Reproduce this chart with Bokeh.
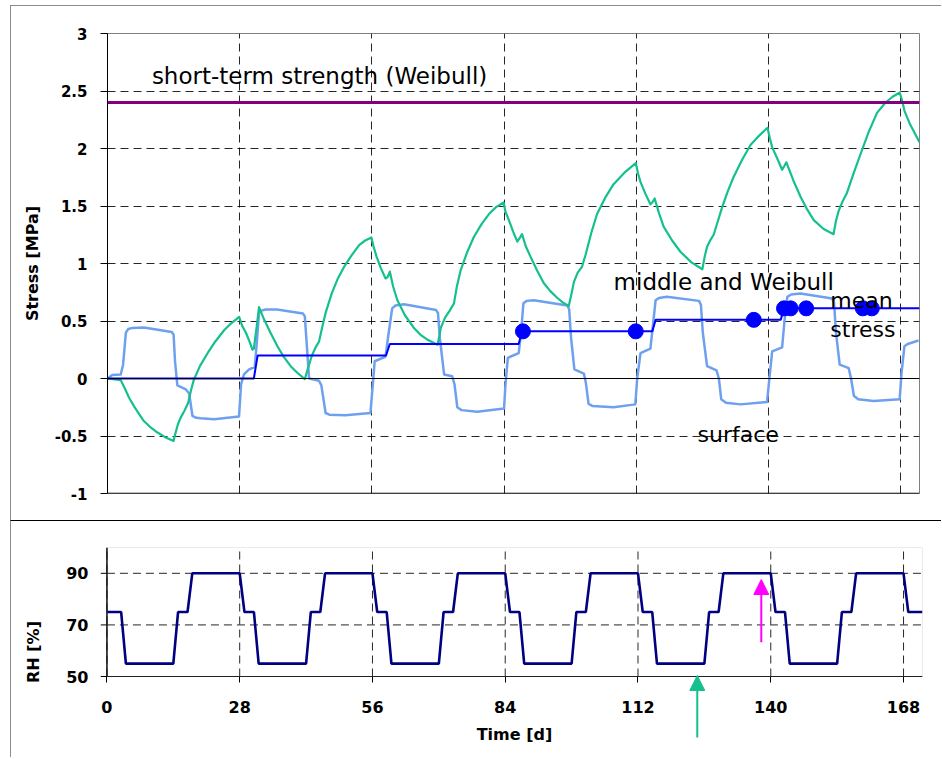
from bokeh.plotting import figure
from bokeh.models import Range1d, FixedTicker, Span, Arrow, NormalHead, ColumnDataSource, BoxAnnotation
from bokeh.layouts import column
from bokeh.embed import file_html
from bokeh.resources import INLINE
from bokeh.core.properties import value

# ---------------- data ----------------
day_range = (0, 172)
x_ticks = [0, 28, 56, 84, 112, 140, 168]
stress_ticks = [-1, -0.5, 0, 0.5, 1, 1.5, 2, 2.5, 3]
stress_tick_labels = ["-1", "-0.5", "0", "0.5", "1", "1.5", "2", "2.5", "3"]
rh_range = (50, 100)
rh_ticks = [50, 70, 90]
rh_grid = [70, 90]
# view extents of the RH panel (room around the plot area for axes and the arrow)
rh_view_y_min = 19.0
rh_view_x_min = -2.2
rh_tick_len_days = 1.3

strength = 2.4

mid_day = [0, 2.8, 3.7, 4.6, 5.6, 6.7, 7.7, 9.0, 10.6, 12.2, 14.0,
           14.3, 14.9, 15.5, 16.3, 17.1, 17.7, 18.3, 19.6, 21.2, 22.8, 24.7, 26.2, 27.9,
           28.5, 29.3, 30.2, 30.7, 31.0, 31.6, 32.1, 32.5, 33.2, 34.5, 36.0, 37.3, 38.8, 40.2, 41.8,
           42.4, 43.3, 44.2, 44.8, 45.5, 46.2, 47.5, 48.8, 50.1, 51.7, 53.3, 54.6, 55.9,
           56.4, 57.0, 57.9, 58.9, 59.3, 59.8, 60.5, 61.4, 63.0, 64.9, 66.3, 67.7, 69.9,
           70.3, 70.6, 71.5, 72.5, 73.4, 74.0, 74.8, 76.2, 77.6, 79.2, 80.8, 82.3, 83.9,
           84.3, 85.0, 85.9, 86.8, 87.3, 87.8, 88.6, 89.6, 91.0, 92.4, 93.8, 95.3, 96.5, 97.7,
           98.3, 98.8, 99.6, 100.5, 101.3, 102.5, 103.7, 105.4, 107.2, 109.5, 111.9,
           112.4, 112.9, 113.9, 115.0, 115.4, 115.9, 116.8, 117.8, 119.6, 121.4, 123.7, 126.0,
           126.5, 127.0, 127.8, 128.4, 129.3, 130.2, 131.4, 132.6, 134.4, 136.2, 138.0, 139.8,
           140.3, 140.8, 141.8, 142.9, 143.4, 143.8, 145.3, 146.8, 148.2, 149.6, 151.7, 153.8,
           154.3, 154.9, 155.7, 156.6, 158.0, 159.5, 161.2, 163.0, 164.8, 166.3, 167.8,
           168.3, 168.8, 170.0, 172.0]
mid_val = [0, -0.014, -0.09, -0.17, -0.24, -0.31, -0.37, -0.42, -0.47, -0.51, -0.543,
           -0.49, -0.40, -0.34, -0.28, -0.21, -0.10, -0.01, 0.11, 0.22, 0.32, 0.42, 0.48, 0.535,
           0.46, 0.40, 0.31, 0.25, 0.26, 0.45, 0.62, 0.58, 0.51, 0.40, 0.28, 0.19, 0.107, 0.05, -0.005,
           0.08, 0.20, 0.28, 0.32, 0.45, 0.57, 0.74, 0.87, 0.97, 1.07, 1.16, 1.20, 1.227,
           1.14, 1.06, 0.96, 0.87, 0.88, 0.93, 0.80, 0.68, 0.55, 0.44, 0.38, 0.34, 0.294,
           0.37, 0.44, 0.53, 0.59, 0.655, 0.80, 0.94, 1.10, 1.23, 1.34, 1.43, 1.49, 1.53,
           1.45, 1.38, 1.28, 1.19, 1.22, 1.255, 1.15, 1.06, 0.94, 0.83, 0.76, 0.70, 0.66, 0.63,
           0.74, 0.84, 0.92, 0.97, 1.08, 1.27, 1.43, 1.57, 1.69, 1.79, 1.873,
           1.78, 1.71, 1.61, 1.515, 1.53, 1.565, 1.44, 1.32, 1.20, 1.10, 1.01, 0.95,
           1.06, 1.145, 1.21, 1.25, 1.37, 1.49, 1.63, 1.75, 1.90, 2.03, 2.11, 2.18,
           2.09, 2.01, 1.92, 1.815, 1.85, 1.88, 1.72, 1.58, 1.47, 1.377, 1.30, 1.255,
           1.37, 1.46, 1.54, 1.61, 1.78, 1.95, 2.14, 2.31, 2.40, 2.45, 2.487,
           2.42, 2.33, 2.21, 2.055]

surf_day = [0, 1.0, 2.8, 3.3, 3.9, 4.4, 5.3, 7.7, 13.6, 14.0, 14.3, 14.8, 16.6, 17.3, 18.0, 18.8, 19.75, 22.6, 27.86,
            28.3, 28.9, 30.0, 31.2, 31.6, 32.1, 32.6, 33.5, 35.9, 41.4, 41.8, 42.2, 42.7, 44.8, 45.3, 46.2, 47.0, 50.4, 55.7,
            56.2, 56.6, 58.9, 59.4, 60.3, 61.0, 62.8, 69.6, 70.0, 70.4, 71.3, 73.0, 73.5, 74.1, 75.0, 78.3, 84.0,
            84.3, 84.8, 87.1, 87.6, 88.1, 88.8, 90.3, 97.4, 97.8, 98.2, 98.9, 100.9, 101.3, 101.9, 102.8, 107.2, 111.8,
            112.2, 112.9, 115.0, 115.5, 116.1, 116.8, 118.5, 125.3, 125.7, 126.1, 127.0, 129.0, 129.5, 130.0, 131.0, 134.1, 139.7,
            140.2, 140.8, 142.9, 143.4, 144.0, 144.8, 146.8, 153.5, 153.9, 154.3, 155.1, 157.0, 157.5, 158.1, 159.0, 162.3, 167.8,
            168.2, 168.8, 169.5, 171.8]
surf_val = [0, 0.03, 0.035, 0.12, 0.40, 0.43, 0.44, 0.444, 0.405, 0.38, 0.15, -0.06, -0.095, -0.13, -0.326, -0.342, -0.346, -0.355, -0.33,
            -0.05, 0.035, 0.08, 0.10, 0.30, 0.57, 0.59, 0.60, 0.60, 0.565, 0.54, 0.30, 0.0, -0.02, -0.06, -0.30, -0.315, -0.32, -0.30,
            -0.05, 0.15, 0.19, 0.35, 0.61, 0.635, 0.645, 0.595, 0.57, 0.35, 0.035, 0.02, -0.05, -0.25, -0.275, -0.29, -0.26,
            -0.05, 0.18, 0.22, 0.40, 0.655, 0.675, 0.68, 0.635, 0.60, 0.35, 0.08, 0.043, -0.03, -0.22, -0.24, -0.25, -0.225,
            0.0, 0.22, 0.26, 0.45, 0.68, 0.70, 0.71, 0.675, 0.64, 0.40, 0.107, 0.07, 0.0, -0.18, -0.21, -0.225, -0.205,
            0.0, 0.236, 0.27, 0.50, 0.71, 0.73, 0.74, 0.695, 0.66, 0.40, 0.12, 0.09, 0.0, -0.15, -0.18, -0.195, -0.18,
            0.05, 0.28, 0.30, 0.33]

mean_day = [0, 31.0, 31.8, 59.0, 59.8, 87.1, 87.8, 115.4, 116.1, 142.6, 143.3, 172]
mean_val = [0, 0, 0.2, 0.2, 0.3, 0.3, 0.41, 0.41, 0.51, 0.51, 0.61, 0.61]

marker_day = [88.0, 111.9, 136.9, 143.3, 144.7, 148.0, 160.0, 161.9]
marker_val = [0.41, 0.41, 0.51, 0.61, 0.61, 0.61, 0.61, 0.61]

rh_day = [0, 3, 4, 14, 15, 17, 18,
          28, 29, 31, 32, 42, 43, 45, 46,
          56, 57, 59, 60, 70, 71, 73, 74,
          84, 85, 87, 88, 98, 99, 101, 102,
          112, 113, 115, 116, 126, 127, 129, 130,
          140, 141, 143, 144, 154, 155, 157, 158,
          168, 169, 172]
rh_val = [75, 75, 55, 55, 75, 75, 90,
          90, 75, 75, 55, 55, 75, 75, 90,
          90, 75, 75, 55, 55, 75, 75, 90,
          90, 75, 75, 55, 55, 75, 75, 90,
          90, 75, 75, 55, 55, 75, 75, 90,
          90, 75, 75, 55, 55, 75, 75, 90,
          90, 75, 75]

label_left_text = ["short-term strength (Weibull)", "middle and Weibull"]
label_left_x = [9.4, 107.2]
label_left_y = [2.632, 0.842]
label_center_text = ["mean", "stress", "surface"]
label_center_x = [159.7, 160.0, 133.6]
label_center_y = [0.678, 0.424, -0.485]

arrow_x = [124.5, 138.0]
arrow_y_start = [26.4, 63.3]
arrow_y_end = [50.4, 87.6]

# ---------------- styles ----------------
GREEN = "#14C08E"
LBLUE = "#6EA0F0"
BLUE = "#0000FF"
PURPLE = "#800080"
NAVY = "#000080"
MAGENTA = "#FF00FF"
FONT = "DejaVu Sans"
arrow_colors = [GREEN, MAGENTA]


def style_axis(ax, size="15px"):
    ax.major_label_text_font = FONT
    ax.major_label_text_font_style = "bold"
    ax.major_label_text_font_size = size
    ax.major_label_text_color = "black"
    ax.axis_label_text_font = FONT
    ax.axis_label_text_font_style = "bold"
    ax.axis_label_text_font_size = "16px"
    ax.axis_label_text_color = "black"
    ax.axis_line_color = "black"
    ax.major_tick_line_color = "black"
    ax.minor_tick_line_color = None
    ax.major_tick_in = 0


def style_grid(g):
    g.grid_line_color = "black"
    g.grid_line_alpha = 0.85
    g.grid_line_dash = "8 5"
    g.grid_line_width = 1


# ---------------- top figure ----------------
p1 = figure(width=931, height=515, x_range=Range1d(*day_range),
            y_range=Range1d(stress_ticks[0], stress_ticks[-1]),
            output_backend="svg", toolbar_location=None,
            min_border_left=96, min_border_right=23, min_border_top=27, min_border_bottom=28)
p1.frame_align = False
p1.margin = (5, 0, 0, 10)
p1.styles = {"border-top": "1px solid #8c8c8c", "border-left": "1px solid #8c8c8c"}
p1.outline_line_color = "#808080"

style_axis(p1.yaxis[0])
p1.yaxis[0].ticker = FixedTicker(ticks=stress_ticks)
p1.yaxis[0].major_label_overrides = dict(zip(stress_ticks, stress_tick_labels))
p1.yaxis[0].axis_label = "Stress [MPa]"
p1.yaxis[0].major_tick_out = 7
p1.yaxis[0].major_label_standoff = 13
p1.yaxis[0].axis_label_standoff = 10

p1.xaxis[0].ticker = FixedTicker(ticks=x_ticks)
p1.xaxis[0].visible = False
p1.xgrid[0].ticker = FixedTicker(ticks=x_ticks)

style_grid(p1.xgrid[0])
style_grid(p1.ygrid[0])

p1.add_layout(Span(location=stress_ticks[0], dimension="width", line_color="black", line_width=1.5))
p1.add_layout(Span(location=0, dimension="width", line_color="black", line_width=1))
p1.add_layout(Span(location=strength, dimension="width", line_color=PURPLE, line_width=3))

p1.line(surf_day, surf_val, line_color=LBLUE, line_width=2.5, line_join="round")
p1.line(mid_day, mid_val, line_color=GREEN, line_width=2.2, line_join="round")
p1.line(mean_day, mean_val, line_color=BLUE, line_width=2)
p1.scatter(marker_day, marker_val, size=15, marker="circle", fill_color=BLUE, line_color=BLUE)

src_l = ColumnDataSource(dict(x=label_left_x, y=label_left_y, t=label_left_text))
p1.text(x="x", y="y", text="t", source=src_l, text_font=value(FONT), text_font_size=value("23px"),
        text_color="black", text_align="left", text_baseline="alphabetic")
src_c = ColumnDataSource(dict(x=label_center_x, y=label_center_y, t=label_center_text))
p1.text(x="x", y="y", text="t", source=src_c, text_font=value(FONT), text_font_size=value("22px"),
        text_color="black", text_align="center", text_baseline="alphabetic")

# ---------------- bottom figure ----------------
p2 = figure(width=931, height=237, x_range=Range1d(rh_view_x_min, day_range[1]),
            y_range=Range1d(rh_view_y_min, rh_range[1]),
            output_backend="svg", toolbar_location=None,
            min_border_left=85, min_border_right=20, min_border_top=26, min_border_bottom=2)
p2.frame_align = False
p2.margin = (0, 0, 0, 10)
p2.styles = {"border-top": "1px solid black", "border-left": "1px solid #8c8c8c"}
p2.outline_line_color = None

style_axis(p2.xaxis[0], "16px")
p2.xaxis[0].ticker = FixedTicker(ticks=x_ticks)
p2.xaxis[0].fixed_location = rh_range[0]
p2.xaxis[0].bounds = day_range
p2.xaxis[0].axis_label = "Time [d]"
p2.xaxis[0].major_tick_out = 6
p2.xaxis[0].major_label_standoff = 18
p2.xaxis[0].axis_label_standoff = 9

# y axis: labels only (axis line and ticks drawn at day 0 below)
style_axis(p2.yaxis[0], "16px")
p2.yaxis[0].ticker = FixedTicker(ticks=rh_ticks)
p2.yaxis[0].bounds = rh_range
p2.yaxis[0].axis_label = "RH [%]"
p2.yaxis[0].axis_line_color = None
p2.yaxis[0].major_tick_line_color = None
p2.yaxis[0].major_tick_out = 0
p2.yaxis[0].major_label_standoff = 8
p2.yaxis[0].axis_label_standoff = 20

p2.xgrid[0].grid_line_color = None
p2.ygrid[0].grid_line_color = None
grid_kw = dict(line_color="black", line_alpha=0.85, line_dash="8 5", line_width=1)
p2.segment(x0=x_ticks, y0=[rh_range[0]] * len(x_ticks), x1=x_ticks, y1=[rh_range[1]] * len(x_ticks), **grid_kw)
p2.segment(x0=[day_range[0]] * len(rh_grid), y0=rh_grid, x1=[day_range[1]] * len(rh_grid), y1=rh_grid, **grid_kw)
p2.add_layout(BoxAnnotation(left=day_range[0], right=day_range[1], bottom=rh_range[0], top=rh_range[1],
                            fill_alpha=0, line_color="#707070", line_width=1))
# RH axis line and outward ticks at day 0
p2.segment(x0=[day_range[0]], y0=[rh_range[0]], x1=[day_range[0]], y1=[rh_range[1]], line_color="black", line_width=1.5)
p2.segment(x0=[day_range[0] - rh_tick_len_days] * len(rh_ticks), y0=rh_ticks,
           x1=[day_range[0]] * len(rh_ticks), y1=rh_ticks, line_color="black", line_width=1)

p2.line(rh_day, rh_val, line_color=NAVY, line_width=2.6)

for ax_, ys, ye, col in zip(arrow_x, arrow_y_start, arrow_y_end, arrow_colors):
    p2.add_layout(Arrow(x_start=ax_, y_start=ys, x_end=ax_, y_end=ye, line_color=col, line_width=2,
                        end=NormalHead(size=15, fill_color=col, line_color=col)))

layout = column(p1, p2)
open("out.html", "w").write(file_html(layout, INLINE))
